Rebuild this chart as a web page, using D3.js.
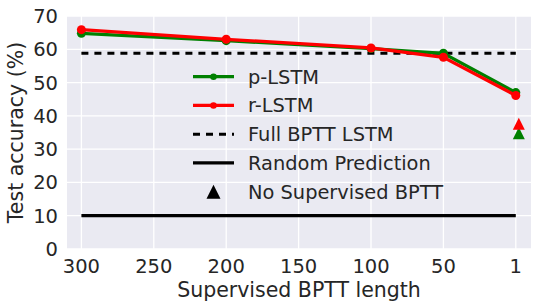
<!DOCTYPE html>
<html><head><meta charset="utf-8">
<script src="https://cdn.jsdelivr.net/npm/d3@7"></script>
<style>body{margin:0;background:#fff}svg text{font-family:"DejaVu Sans",sans-serif;fill:#262626}</style>
</head><body><svg id="c" width="538" height="305"></svg>
<script>
const xTickLabels = ["300","250","200","150","100","50","1"];
const yTicks = [0,10,20,30,40,50,60,70];
const dataX = ["300","200","100","50","1"];
const pLSTM = [64.8, 62.6, 60.2, 58.8, 47.0];
const rLSTM = [65.9, 63.0, 60.4, 57.6, 46.1];
const fullBPTT = 58.8;
const randomPred = 10;
const noSupX = "1";
const noSupP = 34.8;
const noSupR = 37.6;
const legendLabels = ["p-LSTM","r-LSTM","Full BPTT LSTM","Random Prediction","No Supervised BPTT"];

const svg = d3.select("#c");
const L = 67, R = 531, T = 16, B = 249;
const x = d3.scalePoint().domain(xTickLabels).range([L + 14.4, R - 15.2]);
const y = d3.scaleLinear().domain([0,70]).range([B, T]);

// matplotlib-style '^' marker: width == height
const mplTri = { draw(ctx, size){ const h = Math.sqrt(size)/2; ctx.moveTo(0,-h); ctx.lineTo(h,h); ctx.lineTo(-h,h); ctx.closePath(); } };

svg.append("rect").attr("x",L).attr("y",T).attr("width",R-L).attr("height",B-T).attr("fill","#EAEAF2");
const g = svg.append("g");
g.selectAll(".gx").data(xTickLabels).join("line")
  .attr("x1",d=>x(d)).attr("x2",d=>x(d)).attr("y1",T).attr("y2",B)
  .attr("stroke","#fff").attr("stroke-width",1.3);
g.selectAll(".gy").data(yTicks).join("line")
  .attr("x1",L).attr("x2",R).attr("y1",d=>y(d)).attr("y2",d=>y(d))
  .attr("stroke","#fff").attr("stroke-width",1.3);

svg.selectAll(".xt").data(xTickLabels).join("text")
  .attr("x",d=>x(d)).attr("y",272.5).attr("text-anchor","middle")
  .attr("font-size",19.5).text(d=>d);
svg.selectAll(".yt").data(yTicks).join("text")
  .attr("x",58).attr("y",d=>y(d)).attr("dy","0.36em").attr("text-anchor","end")
  .attr("font-size",19.5).text(d=>d);
svg.append("text").attr("x",(L+R)/2).attr("y",297).attr("text-anchor","middle")
  .attr("font-size",20.5).text("Supervised BPTT length");
svg.append("text").attr("transform",`translate(23,${(T+B)/2}) rotate(-90)`)
  .attr("text-anchor","middle").attr("font-size",20.5).text("Test accuracy (%)");

svg.append("line").attr("x1",x("300")).attr("x2",x("1")).attr("y1",y(fullBPTT)).attr("y2",y(fullBPTT))
  .attr("stroke","#000").attr("stroke-width",3).attr("stroke-dasharray","7,6");
svg.append("line").attr("x1",x("300")).attr("x2",x("1")).attr("y1",y(randomPred)).attr("y2",y(randomPred))
  .attr("stroke","#000").attr("stroke-width",3.2);

const line = d3.line().x((d,i)=>x(dataX[i])).y(d=>y(d));
[[pLSTM,"#008000"],[rLSTM,"#ff0000"]].forEach(([s,c])=>{
  svg.append("path").attr("d",line(s)).attr("fill","none").attr("stroke",c).attr("stroke-width",3.3);
  svg.selectAll(null).data(s).join("circle").attr("cx",(d,i)=>x(dataX[i])).attr("cy",d=>y(d))
    .attr("r",4.5).attr("fill",c);
});
const tri = d3.symbol().type(mplTri).size(144);
svg.append("path").attr("d",tri()).attr("transform",`translate(${x(noSupX)+3},${y(noSupP)})`).attr("fill","#008000");
svg.append("path").attr("d",tri()).attr("transform",`translate(${x(noSupX)+3},${y(noSupR)})`).attr("fill","#ff0000");

const ly0 = 76.7, ldy = 28.75, lx1 = 193, lx2 = 234, ltx = 248;
const leg = svg.append("g");
legendLabels.forEach((lab,i)=>{
  const yy = ly0 + i*ldy;
  if (i<2){
    const c = i===0 ? "#008000" : "#ff0000";
    leg.append("line").attr("x1",lx1).attr("x2",lx2).attr("y1",yy).attr("y2",yy).attr("stroke",c).attr("stroke-width",3.3);
    leg.append("circle").attr("cx",(lx1+lx2)/2).attr("cy",yy).attr("r",3.3).attr("fill",c);
  } else if (i===2){
    leg.append("line").attr("x1",lx1).attr("x2",lx2).attr("y1",yy).attr("y2",yy).attr("stroke","#000").attr("stroke-width",3).attr("stroke-dasharray","7,6");
  } else if (i===3){
    leg.append("line").attr("x1",lx1).attr("x2",lx2).attr("y1",yy).attr("y2",yy).attr("stroke","#000").attr("stroke-width",3.2);
  } else {
    leg.append("path").attr("d",d3.symbol().type(mplTri).size(196)()).attr("transform",`translate(${(lx1+lx2)/2},${yy})`).attr("fill","#000");
  }
  leg.append("text").attr("x",ltx).attr("y",yy).attr("dy","0.36em").attr("font-size",19.4).text(lab);
});
</script></body></html>
